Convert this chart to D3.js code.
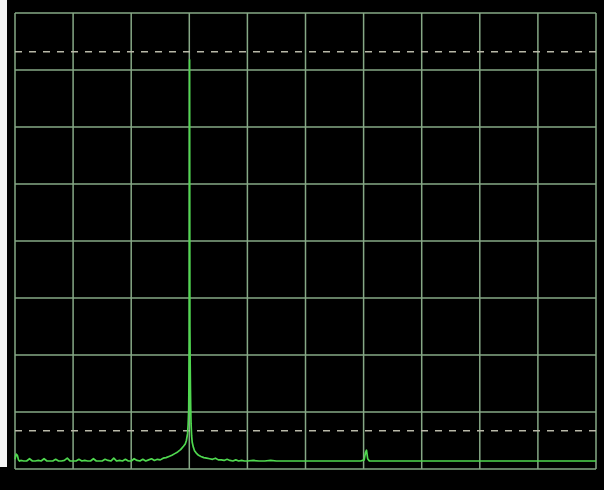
<!DOCTYPE html>
<html>
<head>
<meta charset="utf-8">
<script src="https://cdn.jsdelivr.net/npm/d3@7"></script>
<style>
  html, body { margin: 0; padding: 0; background: #000; }
  svg { display: block; }
</style>
</head>
<body>
<svg id="chart" width="604" height="490"></svg>
<script>
// Spectrum trace: frequency in screen divisions (0–10), level in dB (0 = reference level)
const freqDiv = [
  0.00, 0.02, 0.04, 0.06, 0.08, 0.10, 0.15, 0.20, 0.25, 0.30, 0.35, 0.40, 0.45,
  0.50, 0.55, 0.60, 0.65, 0.70, 0.75, 0.80, 0.85, 0.90, 0.95, 1.00, 1.05, 1.10,
  1.15, 1.20, 1.25, 1.30, 1.35, 1.40, 1.45, 1.50, 1.55, 1.60, 1.65, 1.70, 1.75,
  1.80, 1.85, 1.90, 1.95, 2.00, 2.05, 2.10, 2.15, 2.20, 2.25, 2.30, 2.35, 2.40,
  2.45, 2.50, 2.55, 2.60, 2.65, 2.70, 2.75, 2.80, 2.85, 2.90, 2.93, 2.95, 2.97,
  2.98, 2.99, 2.995, 3.000, 3.005, 3.010, 3.015, 3.020, 3.025, 3.03, 3.04, 3.05,
  3.07, 3.09, 3.12, 3.16, 3.20, 3.25, 3.30, 3.35, 3.40, 3.45, 3.50, 3.55, 3.60,
  3.65, 3.70, 3.75, 3.80, 3.85, 3.90, 3.95, 4.00, 4.10, 4.20, 4.30, 4.40, 4.50,
  4.60, 4.80, 5.00, 5.20, 5.40, 5.60, 5.80, 5.95, 6.01, 6.03, 6.05, 6.07, 6.10,
  6.30, 6.60, 7.00, 7.50, 8.00, 8.50, 9.00, 9.50, 10.00
];
const levelDb = [
  -78.3, -77.4, -77.6, -78.4, -78.6, -78.5, -78.6, -78.6, -78.2, -78.6, -78.6, -78.5, -78.6,
  -78.2, -78.6, -78.6, -78.6, -78.3, -78.6, -78.6, -78.5, -78.1, -78.6, -78.6, -78.6, -78.3,
  -78.6, -78.5, -78.6, -78.6, -78.2, -78.6, -78.6, -78.6, -78.3, -78.5, -78.6, -78.1, -78.6,
  -78.5, -78.6, -78.3, -78.6, -78.6, -78.2, -78.5, -78.6, -78.3, -78.6, -78.4, -78.2, -78.5,
  -78.3, -78.4, -78.1, -78.0, -77.8, -77.6, -77.3, -77.0, -76.6, -76.0, -75.6, -75.0, -73.8,
  -72.2, -69.5, -63.0, -57.6, -8.2, -55.0, -61.5, -66.0, -69.5, -72.0, -74.2, -75.3,
  -76.2, -76.8, -77.2, -77.6, -77.8, -78.0, -78.1, -78.2, -78.3, -78.1, -78.4, -78.4, -78.5,
  -78.3, -78.5, -78.6, -78.4, -78.6, -78.5, -78.6, -78.6, -78.5, -78.6, -78.6, -78.5, -78.6,
  -78.6, -78.6, -78.6, -78.6, -78.6, -78.6, -78.6, -78.6, -78.4, -77.2, -76.7, -78.2, -78.6,
  -78.6, -78.6, -78.6, -78.6, -78.6, -78.6, -78.6, -78.6, -78.6
];
// Grid: 10 horizontal divisions, 8 vertical divisions of 10 dB
const xDivisions = d3.range(0, 11);
const yLevels = d3.range(0, -90, -10);
// Dashed display lines (dB)
const displayLines = [-6.8, -73.3];

const svg = d3.select("#chart");
const W = 604, H = 490;
const plot = { left: 15, top: 13, right: 596, bottom: 469 };

svg.append("rect").attr("width", W).attr("height", H).attr("fill", "#000");
// light strip along the left edge
svg.append("rect").attr("x", 0).attr("y", 0).attr("width", 7).attr("height", 467).attr("fill", "#f4f4f4");

const x = d3.scaleLinear().domain([0, 10]).range([plot.left, plot.right]);
const y = d3.scaleLinear().domain([0, -80]).range([plot.top, plot.bottom]);

const gridColor = "#86a886";

// vertical grid lines
svg.append("g").selectAll("line").data(xDivisions).join("line")
  .attr("x1", d => x(d)).attr("x2", d => x(d))
  .attr("y1", plot.top).attr("y2", plot.bottom)
  .attr("stroke", gridColor).attr("stroke-width", 1.5);

// horizontal grid lines
svg.append("g").selectAll("line").data(yLevels).join("line")
  .attr("x1", plot.left).attr("x2", plot.right)
  .attr("y1", d => y(d)).attr("y2", d => y(d))
  .attr("stroke", gridColor).attr("stroke-width", 1.5);

// dashed display lines
svg.append("g").selectAll("line").data(displayLines).join("line")
  .attr("x1", plot.left).attr("x2", plot.right)
  .attr("y1", d => y(d)).attr("y2", d => y(d))
  .attr("stroke", "#b8b8a8").attr("stroke-width", 1.5)
  .attr("stroke-dasharray", "7,7");

// trace
const trace = freqDiv.map((f, i) => [f, levelDb[i]]);
const line = d3.line().x(d => x(d[0])).y(d => y(d[1]));
svg.append("path").datum(trace)
  .attr("d", line)
  .attr("fill", "none")
  .attr("stroke", "#4fd84f")
  .attr("stroke-width", 1.7)
  .attr("stroke-linejoin", "round");
</script>
</body>
</html>
